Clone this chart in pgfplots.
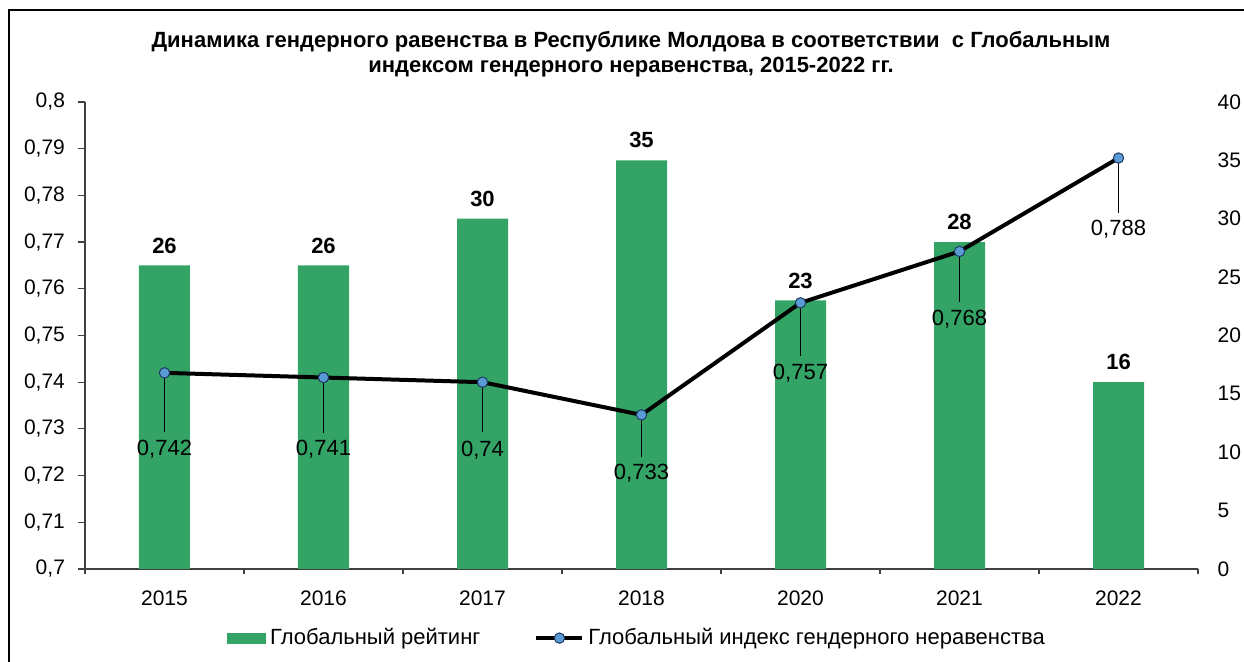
\documentclass[border=0pt]{standalone}
\usepackage{fontspec}
\setmainfont{Liberation Sans}
\usepackage{pgfplots}
\usepackage{pgfplotstable}
\pgfplotsset{compat=1.18}
\definecolor{barg}{HTML}{33A366}
\definecolor{mk}{HTML}{5B9BD5}
\definecolor{mkd}{HTML}{1F3864}
\pgfplotsset{
  lineleg/.style={legend image code/.code={%
    \draw[mark repeat=2, mark phase=2, ##1] plot coordinates {(0pt,0pt) (11.5pt,0pt) (23pt,0pt)};}},
  barleg/.style={legend image code/.code={\fill[barg] (0pt,-2.5pt) rectangle (19pt,2.5pt);}},
}

% Глобальный рейтинг (правая ось)
\pgfplotstableread{
x y
0 26
1 26
2 30
3 35
4 23
5 28
6 16
}\rating

% Глобальный индекс (левая ось); em = длина выноски, dy = сдвиг подписи
\pgfplotstableread{
x v em dy lbl
0 0.742 0.01263 38 0,742
1 0.741 0.01178 36 0,741
2 0.740 0.01071 34 0,74
3 0.733 0.00899 29 0,733
4 0.757 0.01135 35 0,757
5 0.768 0.01092 34 0,768
6 0.788 0.01178 35.5 0,788
}\gindex

\begin{document}
\begin{tikzpicture}
\useasboundingbox (-42.5pt,-46.5pt) rectangle (579.5pt,284.5pt);
\draw[line width=0.7pt] (-38pt,-60pt) -- (-38pt,279.5pt) -- (600pt,279.5pt);
\node[align=center, font=\bfseries\fontsize{11}{12.5}\selectfont] at (273pt,257.5pt)
  {Динамика гендерного равенства в Республике Молдова в соответствии\ \ с Глобальным\\индексом гендерного неравенства, 2015-2022 гг.};

\begin{axis}[
  at={(0,0)}, anchor=south west,
  scale only axis, width=556.5pt, height=233.5pt,
  xmin=-0.5, xmax=6.5, ymin=0, ymax=40,
  ytick distance=5,
  axis x line*=bottom, axis y line*=right,
  y axis line style={draw=none},
  x axis line style={black!75, line width=0.6pt},
  ytick style={draw=none},
  xtick={0,...,6},
  xticklabels={2015,2016,2017,2018,2020,2021,2022},
  major x tick style={draw=none},
  minor xtick={-0.5,0.5,...,6.5},
  minor x tick style={black!75, line width=0.6pt},
  minor tick length=2.5pt,
  tick align=outside,
  tick label style={font=\fontsize{10.5}{12}\selectfont},
  /pgf/number format/assume math mode=true,
  yticklabel style={anchor=west, xshift=2pt},
  xticklabel style={yshift=-3pt},
  ybar, bar width=25.5pt,
  nodes near coords,
  nodes near coords style={font=\bfseries\fontsize{11}{12}\selectfont, anchor=center, yshift=10pt},
  clip=false,
]
\addplot[fill=barg, draw=none] table[x=x, y=y] {\rating};
\end{axis}

\begin{axis}[
  at={(0,0)}, anchor=south west,
  scale only axis, width=556.5pt, height=233.5pt,
  xmin=-0.5, xmax=6.5, ymin=0.7, ymax=0.8,
  ytick distance=0.01,
  axis x line=none, axis y line*=left,
  y axis line style={black!75, line width=0.6pt},
  ytick style={black!75, line width=0.6pt},
  major tick length=3.5pt,
  tick align=outside,
  tick label style={font=\fontsize{10.5}{12}\selectfont},
  /pgf/number format/.cd, use comma, fixed, precision=2, assume math mode=true,
  /pgfplots/.cd,
  yticklabel style={xshift=-3pt},
  clip=false,
  legend columns=2,
  legend style={at={(0.497,-0.148)}, anchor=center, draw=none, fill=none,
    font=\fontsize{11}{12}\selectfont,
    /tikz/every even column/.append style={column sep=25pt}},
]
\addlegendimage{barleg}
\addlegendentry{Глобальный рейтинг}
\addplot[black, line width=2pt,
  mark=*, mark size=2.6pt,
  mark options={fill=mk, draw=mkd, line width=0.5pt},
  lineleg,
  point meta=explicit symbolic,
  visualization depends on={\thisrow{dy} \as \dy},
  nodes near coords,
  nodes near coords style={font=\fontsize{11}{12}\selectfont, text=black, anchor=center, yshift={-\dy pt}},
  error bars/.cd, y dir=minus, y explicit, error mark=none,
  error bar style={black, line width=0.6pt},
] table[x=x, y=v, y error minus=em, meta=lbl] {\gindex};
\addlegendentry{Глобальный индекс гендерного неравенства}
\end{axis}
\end{tikzpicture}
\end{document}
